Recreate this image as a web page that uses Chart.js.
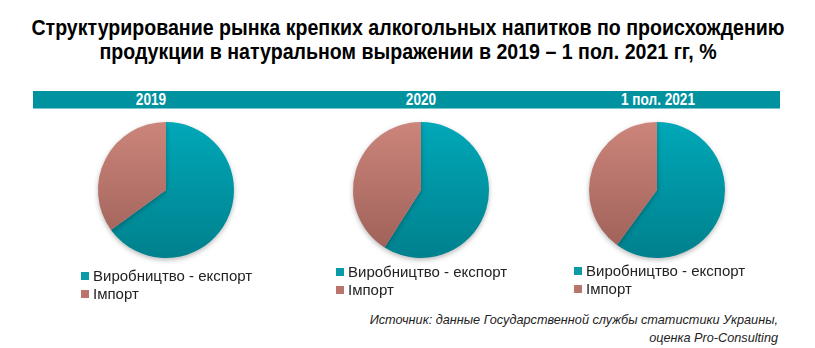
<!DOCTYPE html>
<html>
<head>
<meta charset="utf-8">
<script src="https://cdn.jsdelivr.net/npm/chart.js@4.4.1/dist/chart.umd.min.js"></script>
<style>
  body { margin: 0; width: 815px; height: 348px; background: #fff; position: relative; overflow: hidden;
         font-family: "Liberation Sans", Arial, sans-serif; }
  #title { position: absolute; left: -92px; top: 16px; width: 1000px; text-align: center; white-space: nowrap;
           font-weight: bold; font-size: 22px; line-height: 24px; color: #000;
           transform: scaleX(0.89); transform-origin: 500px 0; }
  #band { position: absolute; left: 33px; top: 91px; width: 747px; height: 17px; background: #00929f;
          border-bottom: 1px solid #7cc7cf; }
  .period { position: absolute; top: 0; transform: translateX(-50%) scaleX(0.85); color: #fff; font-weight: bold;
            font-size: 16px; line-height: 17px; white-space: nowrap; }
  .pie { position: absolute; width: 160px; height: 160px; }
  .legend { position: absolute; font-size: 15px; line-height: 18px; color: #222; }
  .legend div { white-space: nowrap; }
  .legend span { display: inline-block; width: 8px; height: 8px; margin-right: 4px; vertical-align: 1px; }
  #source { position: absolute; right: 37px; top: 311px; text-align: right; font-style: italic;
            font-size: 12.7px; line-height: 18px; color: #222; }
</style>
</head>
<body>
<div id="title">Структурирование рынка крепких алкогольных напитков по происхождению<br>продукции в натуральном выражении в 2019 – 1 пол. 2021 гг, %</div>
<div id="band"></div>
<div id="source">Источник: данные Государственной службы статистики Украины,<br>оценка Pro-Consulting</div>

<script>
// share of spirits market by origin, %
const periods = ['2019', '2020', '1 пол. 2021'];
const segments = ['Виробництво - експорт', 'Імпорт'];
const exportShare = [65, 59, 60];
const importShare = [35, 41, 40];

// page layout: pie centres, period label centres, legend corners
const pieX = [166, 421, 657];
const pieY = 190;
const labelX = [151, 421, 658];
const legendPos = [[81, 267], [336, 263], [574, 262]];

const topColors = ['#00a8b8', '#cc857b'];
const bottomColors = ['#00808d', '#9c5f57'];
const legendColors = ['#0a9aa8', '#b9746b'];

const band = document.getElementById('band');

function shade(context) {
  const chart = context.chart;
  const area = chart.chartArea;
  const i = context.dataIndex;
  if (!area) return topColors[i];
  const g = chart.ctx.createLinearGradient(0, area.top, 0, area.bottom);
  g.addColorStop(0, topColors[i]);
  g.addColorStop(1, bottomColors[i]);
  return g;
}

const pieShadow = {
  id: 'pieShadow',
  beforeDatasetsDraw(chart) {
    const c = chart.ctx;
    c.save();
    c.shadowColor = 'rgba(0,0,0,0.28)';
    c.shadowBlur = 5;
    c.shadowOffsetY = 2;
  },
  afterDatasetsDraw(chart) {
    chart.ctx.restore();
  }
};

periods.forEach((p, k) => {
  const lab = document.createElement('div');
  lab.className = 'period';
  lab.style.left = (labelX[k] - 33) + 'px';
  lab.textContent = p;
  band.appendChild(lab);

  const cv = document.createElement('canvas');
  cv.className = 'pie';
  cv.width = 160;
  cv.height = 160;
  cv.style.left = (pieX[k] - 80) + 'px';
  cv.style.top = (pieY - 80) + 'px';
  document.body.appendChild(cv);

  new Chart(cv.getContext('2d'), {
    type: 'pie',
    data: {
      labels: segments,
      datasets: [{
        data: [exportShare[k], importShare[k]],
        backgroundColor: shade,
        borderWidth: 0
      }]
    },
    options: {
      responsive: false,
      animation: false,
      layout: { padding: 12 },
      plugins: { legend: { display: false }, tooltip: { enabled: false } }
    },
    plugins: [pieShadow]
  });

  const lg = document.createElement('div');
  lg.className = 'legend';
  lg.style.left = legendPos[k][0] + 'px';
  lg.style.top = legendPos[k][1] + 'px';
  segments.forEach((s, i) => {
    const row = document.createElement('div');
    row.innerHTML = '<span style="background:' + legendColors[i] + '"></span>' + s;
    lg.appendChild(row);
  });
  document.body.appendChild(lg);
});
</script>
</body>
</html>
